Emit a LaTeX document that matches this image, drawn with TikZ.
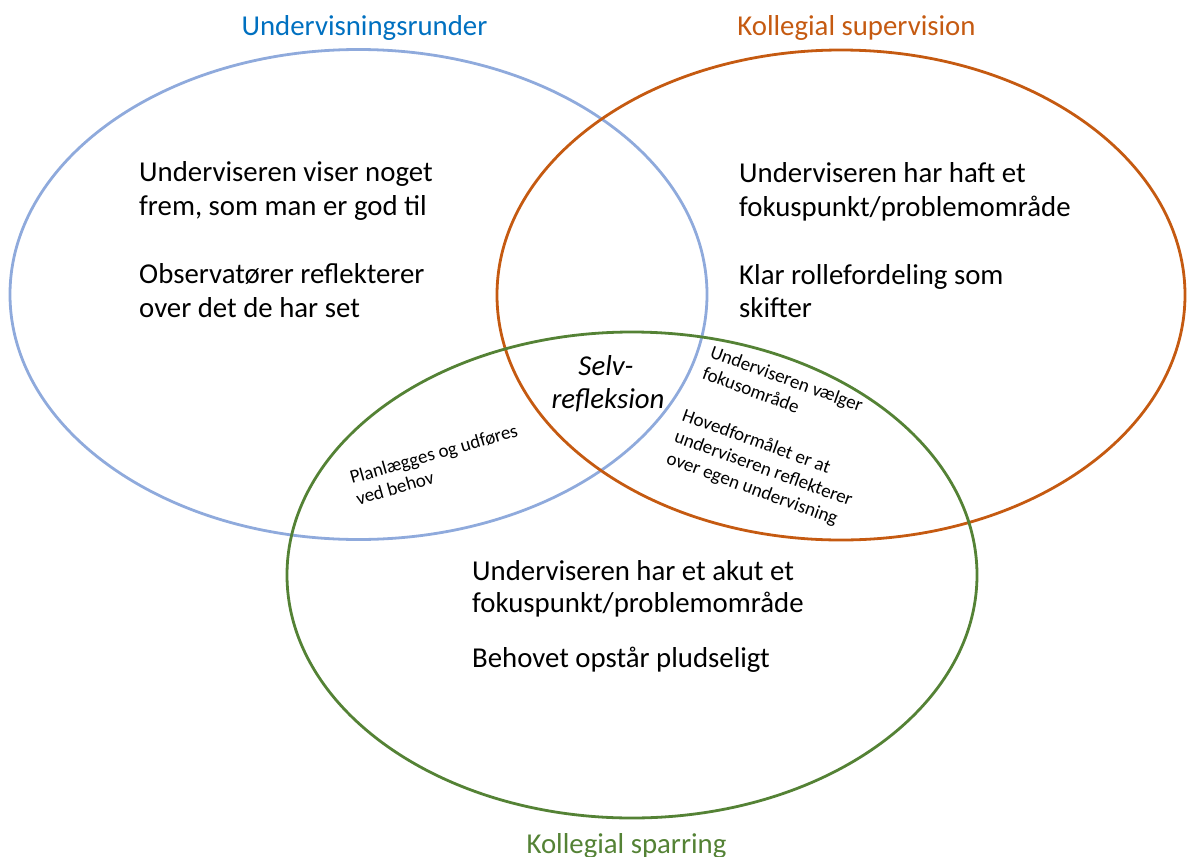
\documentclass[tikz,border=0pt]{standalone}
\usepackage{fontspec}
\setmainfont{Carlito}
\usetikzlibrary{shapes.geometric}
\definecolor{runderline}{HTML}{8FAADC}
\definecolor{rundertext}{HTML}{0070C0}
\definecolor{superorange}{HTML}{C55A11}
\definecolor{sparrgreen}{HTML}{548235}

\begin{document}
\begin{tikzpicture}[x=1pt,y=-1pt,
  circ/.style={ellipse, draw, line width=2.8pt, inner sep=0pt},
  heading/.style={anchor=base, inner sep=0pt, font=\fontsize{28.8}{34}\selectfont},
  body/.style={anchor=base west, inner sep=0pt, font=\fontsize{28.8}{34}\selectfont},
  small/.style={anchor=base west, inner sep=0pt, font=\fontsize{19}{23}\selectfont},
  centre/.style={anchor=base, inner sep=0pt, font=\fontsize{28.8}{34}\selectfont\itshape},
  ]
\useasboundingbox (0,0) rectangle (1187,857);

% the three circles of the diagram
\node[circ, draw=runderline, minimum width=697pt, minimum height=490pt] (runder) at (358.5,294.5) {};
\node[circ, draw=superorange, minimum width=688pt, minimum height=490pt] (super) at (841,295) {};
\node[circ, draw=sparrgreen, minimum width=690pt, minimum height=486pt] (sparring) at (632,575) {};

% headings
\node[heading, text=rundertext] (tRunder) at (364.5,35) {Undervisningsrunder};
\node[heading, text=superorange] (tSuper) at (856.5,35) {Kollegial supervision};
\node[heading, text=sparrgreen] (tSparring) at (626.5,853) {Kollegial sparring};

% undervisningsrunder
\node[body] (r1) at (139,181) {Underviseren viser noget};
\node[body] (r2) at (139,215) {frem, som man er god til};
\node[body] (r3) at (139,283) {Observatører reflekterer};
\node[body] (r4) at (139,317) {over det de har set};

% kollegial supervision
\node[body] (s1) at (739,182) {Underviseren har haft et};
\node[body] (s2) at (739,216) {fokuspunkt/problemområde};
\node[body] (s3) at (739,284) {Klar rollefordeling som};
\node[body] (s4) at (739,317) {skifter};

% kollegial sparring
\node[body] (k1) at (472,580) {Underviseren har et akut et};
\node[body] (k2) at (472,612) {fokuspunkt/problemområde};
\node[body] (k3) at (472,667) {Behovet opstår pludseligt};

% centre
\node[centre] (c1) at (606,375) {Selv-};
\node[centre] (c2) at (608,408) {refleksion};

% overlap of undervisningsrunder and sparring
\begin{scope}[shift={(352,484)}, rotate=16, transform shape]
  \node[small] (p1) at (0,0) {Planlægges og udføres};
  \node[small] (p2) at (0,22) {ved behov};
\end{scope}

% overlap of supervision and sparring
\begin{scope}[shift={(709,357)}, rotate=-20, transform shape]
  \node[small] (v1) at (0,0) {Underviseren vælger};
  \node[small] (v2) at (0,23) {fokusområde};
\end{scope}
\begin{scope}[shift={(681,420)}, rotate=-20, transform shape]
  \node[small] (h1) at (0,0) {Hovedformålet er at};
  \node[small] (h2) at (0,23) {underviseren reflekterer};
  \node[small] (h3) at (0,46) {over egen undervisning};
\end{scope}
\end{tikzpicture}
\end{document}
